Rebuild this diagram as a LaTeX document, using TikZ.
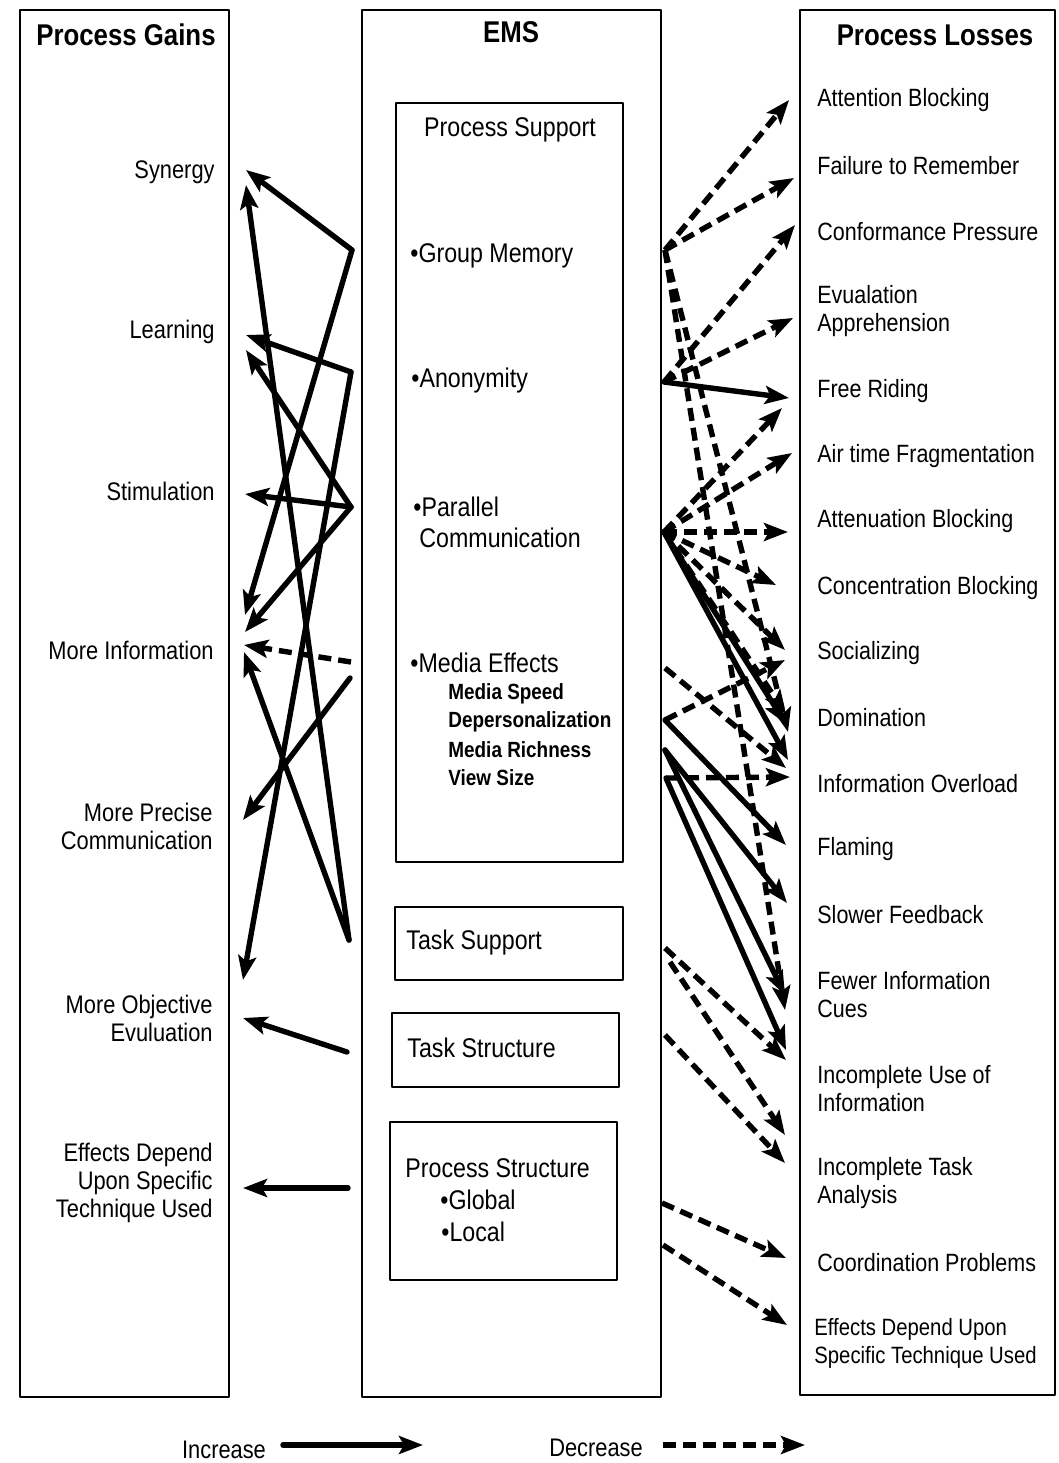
\documentclass[tikz,border=0pt]{standalone}
\usepackage{fontspec}
\setmainfont{Liberation Sans}[FakeStretch=0.86]
\usetikzlibrary{arrows.meta}

\begin{document}
\begin{tikzpicture}[x=0.5pt,y=-0.5pt,line join=round,>={Stealth[length=12pt,width=9pt,inset=2.5pt]}]
  \tikzset{frame/.style={line width=1.3pt},
    head/.style={inner sep=0pt,font=\bfseries\fontsize{15}{17}\selectfont},
    gain/.style={anchor=east,align=right,inner sep=0pt,font=\fontsize{12.7}{14}\selectfont},
    loss/.style={anchor=west,align=left,inner sep=0pt,font=\fontsize{12.5}{14}\selectfont},
    emsitem/.style={anchor=west,align=left,inner sep=0pt,font=\fontsize{13.5}{15.5}\selectfont},
    subitem/.style={anchor=west,inner sep=0pt,font=\bfseries\fontsize{11}{13}\selectfont},
    inc/.style={->,line width=2.7pt,line cap=round},
    dec/.style={->,line width=2.7pt,dash pattern=on 6.5pt off 3.5pt}}
  \useasboundingbox (0,0) rectangle (1059,1463);

  % three columns
  \draw[frame] (20,10) rectangle (229,1397);
  \draw[frame] (362,10) rectangle (661,1397);
  \draw[frame] (800,10) rectangle (1055,1395);
  \node[head] (gains) at (126,35) {Process Gains};
  \node[head] (ems) at (511,32) {EMS};
  \node[head] (losses) at (935,35) {Process Losses};

  % EMS boxes
  \draw[frame] (396,103) rectangle (623,862);
  \draw[frame] (395,907) rectangle (623,980);
  \draw[frame] (392,1013) rectangle (619,1087);
  \draw[frame] (390,1122) rectangle (617,1280);
  \node[emsitem,anchor=center] (psup) at (510,130) {Process Support};
  \node[emsitem] (gmem) at (410,256) {•Group Memory};
  \node[emsitem] (anon) at (411,381) {•Anonymity};
  \node[emsitem] (parc) at (413,522) {•Parallel\\\hspace*{3pt}Communication};
  \node[emsitem] (media) at (410,663) {•Media Effects};
  \node[subitem] (mspeed) at (448,694) {Media Speed};
  \node[subitem] (mdep) at (448,722) {Depersonalization};
  \node[subitem] (mrich) at (448,750) {Media Richness};
  \node[subitem] (mview) at (448,778) {View Size};
  \node[emsitem] (tsup) at (406,943) {Task Support};
  \node[emsitem] (tstr) at (407,1048) {Task Structure};
  \node[emsitem] (pstr) at (405,1168) {Process Structure};
  \node[emsitem] (pglob) at (440,1200) {•Global};
  \node[emsitem] (ploc) at (441,1232) {•Local};

  % gains
  \node[gain] (synergy) at (215,172) {Synergy};
  \node[gain] (learning) at (215,332) {Learning};
  \node[gain] (stimul) at (215,491) {Stimulation};
  \node[gain] (moreinfo) at (214,650) {More Information};
  \node[gain] (precise) at (213,826) {More Precise\\Communication};
  \node[gain] (objective) at (213,1018) {More Objective\\Evuluation};
  \node[gain] (effgain) at (213,1183) {Effects Depend\\Upon Specific\\Technique Used};

  % losses
  \node[loss] (attblock) at (817,100) {Attention Blocking};
  \node[loss] (failrem) at (817,166) {Failure to Remember};
  \node[loss] (conform) at (817,232) {Conformance Pressure};
  \node[loss] (evual) at (817,311) {Evualation\\Apprehension};
  \node[loss] (freeride) at (817,391) {Free Riding};
  \node[loss] (airtime) at (817,456) {Air time Fragmentation};
  \node[loss] (attenu) at (817,521) {Attenuation Blocking};
  \node[loss] (concent) at (817,588) {Concentration Blocking};
  \node[loss] (social) at (817,653) {Socializing};
  \node[loss] (domin) at (817,718) {Domination};
  \node[loss] (overload) at (817,784) {Information Overload};
  \node[loss] (flaming) at (817,849) {Flaming};
  \node[loss] (slower) at (817,915) {Slower Feedback};
  \node[loss] (fewer) at (817,995) {Fewer Information\\Cues};
  \node[loss] (incuse) at (817,1089) {Incomplete Use of\\Information};
  \node[loss] (inctask) at (817,1183) {Incomplete Task\\Analysis};
  \node[loss] (coord) at (817,1263) {Coordination Problems};
  \node[loss,font=\fontsize{11.8}{14}\selectfont] (effloss) at (814,1343) {Effects Depend Upon\\Specific Technique Used};

  % arrow ends, left side
  \coordinate (gm-l) at (352,250);
  \coordinate (an-l) at (351,372);
  \coordinate (pc-l) at (351,507);
  \coordinate (me-l) at (351,662);
  \coordinate (me2-l) at (350,678);
  \coordinate (ts-l) at (349,940);
  \coordinate (tst-l) at (347,1052);
  \coordinate (ps-l) at (348,1188);
  \coordinate (syn-a) at (246,170);
  \coordinate (syn-b) at (246,185);
  \coordinate (lea-a) at (246,335);
  \coordinate (lea-b) at (246,350);
  \coordinate (sti) at (245,494);
  \coordinate (inf-a) at (245,615);
  \coordinate (inf-b) at (245,632);
  \coordinate (inf-c) at (244,645);
  \coordinate (inf-d) at (244,652);
  \coordinate (pre) at (243,820);
  \coordinate (obj-a) at (243,980);
  \coordinate (obj-b) at (243,1018);
  \coordinate (eff-g) at (243,1188);

  % arrow ends, right side
  \coordinate (gm-r) at (665,250);
  \coordinate (an-r) at (664,382);
  \coordinate (pc-r) at (664,532);
  \coordinate (me-r1) at (665,668);
  \coordinate (me-r2) at (665,720);
  \coordinate (me-r3) at (665,750);
  \coordinate (me-r4) at (666,778);
  \coordinate (ts-r1) at (665,948);
  \coordinate (ts-r2) at (670,962);
  \coordinate (tst-r) at (665,1035);
  \coordinate (ps-r1) at (662,1203);
  \coordinate (ps-r2) at (663,1245);
  \coordinate (att) at (789,100);
  \coordinate (fail) at (794,178);
  \coordinate (conf) at (795,225);
  \coordinate (eva) at (793,318);
  \coordinate (free-a) at (789,398);
  \coordinate (free-b) at (782,408);
  \coordinate (air) at (792,453);
  \coordinate (attn) at (788,532);
  \coordinate (conc) at (776,585);
  \coordinate (soc-a) at (785,650);
  \coordinate (soc-b) at (785,660);
  \coordinate (dom-a) at (788,732);
  \coordinate (dom-b) at (786,714);
  \coordinate (dom-c) at (786,724);
  \coordinate (ovl-a) at (788,760);
  \coordinate (ovl-b) at (786,768);
  \coordinate (ovl-c) at (790,777);
  \coordinate (fla) at (786,845);
  \coordinate (slo) at (787,903);
  \coordinate (few-a) at (785,995);
  \coordinate (few-b) at (785,1010);
  \coordinate (use-a) at (786,1050);
  \coordinate (use-b) at (786,1060);
  \coordinate (tas-a) at (785,1135);
  \coordinate (tas-b) at (785,1163);
  \coordinate (coo) at (786,1258);
  \coordinate (eff-l) at (787,1325);

  % increases
  \foreach \s/\t in {gm-l/syn-a,gm-l/inf-a,an-l/lea-a,an-l/obj-a,pc-l/lea-b,pc-l/sti,pc-l/inf-b,
      me2-l/pre,ts-l/syn-b,ts-l/inf-d,tst-l/obj-b,ps-l/eff-g,
      an-r/free-a,pc-r/dom-c,pc-r/ovl-a,me-r2/fla,me-r3/slo,me-r3/few-a,me-r4/use-a}
    \draw[inc] (\s) -- (\t);
  % decreases
  \foreach \s/\t in {me-l/inf-c,
      gm-r/att,gm-r/fail,gm-r/dom-a,gm-r/few-b,an-r/conf,an-r/eva,
      pc-r/free-b,pc-r/air,pc-r/attn,pc-r/conc,pc-r/soc-a,pc-r/dom-b,
      me-r1/ovl-b,me-r2/soc-b,me-r4/ovl-c,ts-r1/use-b,ts-r2/tas-a,tst-r/tas-b,
      ps-r1/coo,ps-r2/eff-l}
    \draw[dec] (\s) -- (\t);

  % legend
  \node[gain,anchor=center] (incr) at (224,1450) {Increase};
  \node[gain,anchor=center] (decr) at (596,1448) {Decrease};
  \coordinate (incr-a) at (283,1445);
  \coordinate (incr-b) at (423,1445);
  \coordinate (decr-a) at (663,1445);
  \coordinate (decr-b) at (805,1445);
  \draw[inc] (incr-a) -- (incr-b);
  \draw[dec] (decr-a) -- (decr-b);
\end{tikzpicture}
\end{document}
